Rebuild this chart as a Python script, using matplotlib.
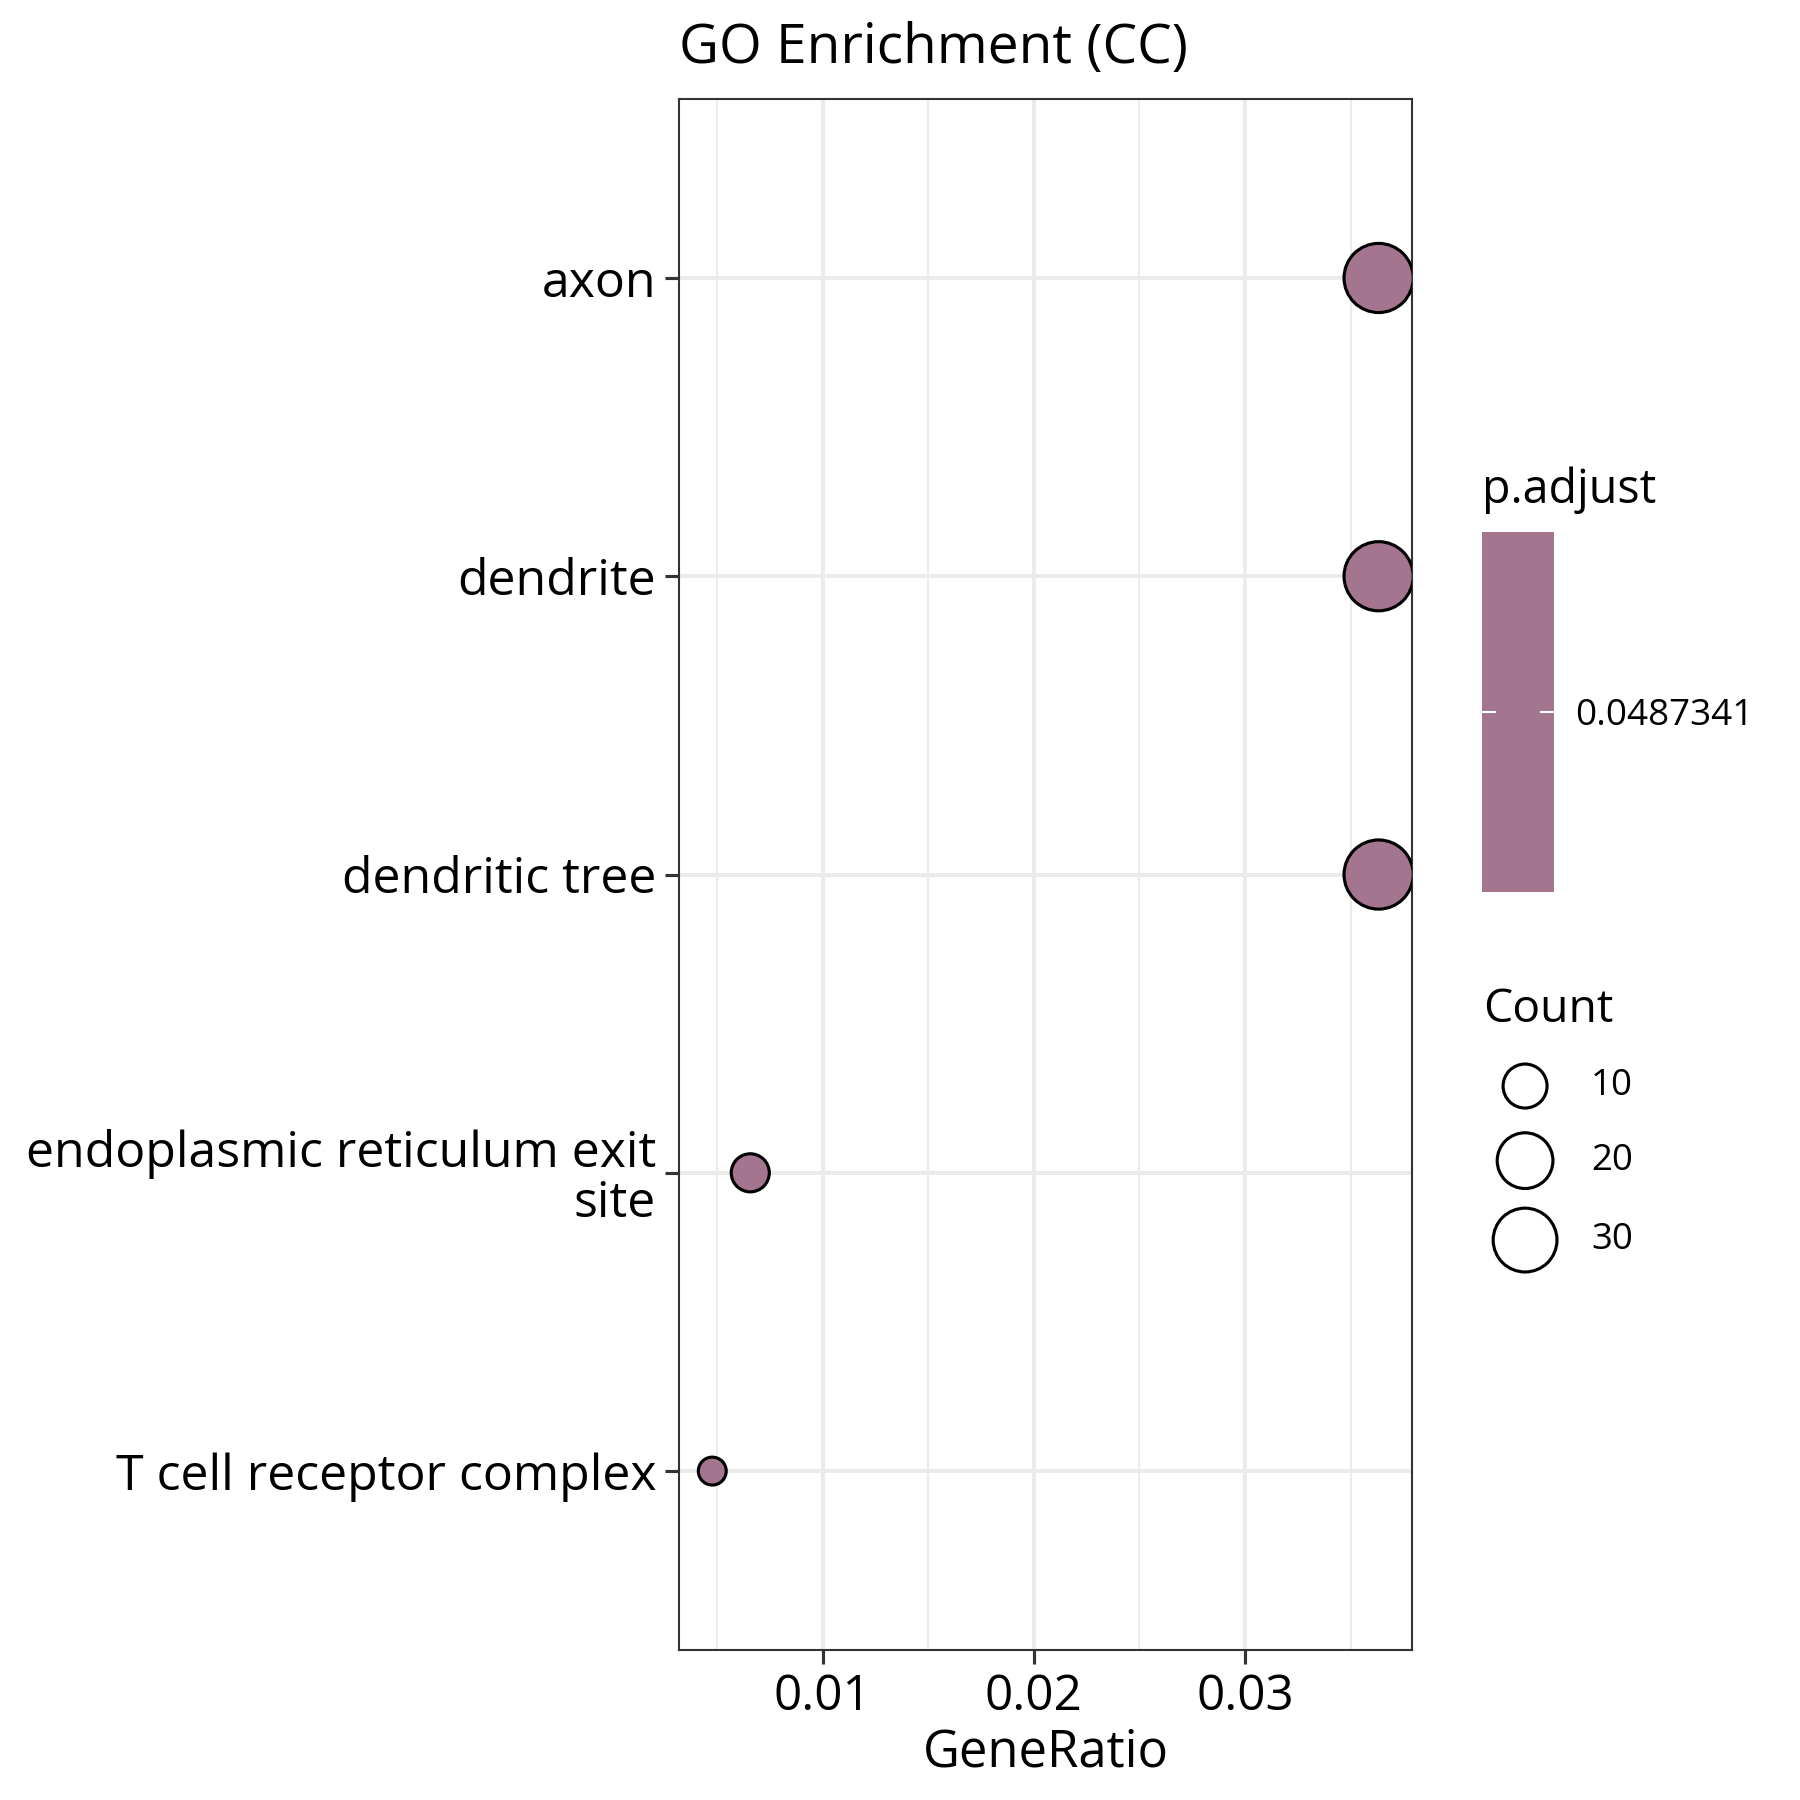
import numpy as np
import matplotlib
matplotlib.use("Agg")
import matplotlib.pyplot as plt
from matplotlib.ticker import MultipleLocator, FormatStrFormatter

plt.rcParams['font.family'] = ['Open Sans', 'DejaVu Sans']

# Dados
termos = ['axon', 'dendrite', 'dendritic tree',
          'endoplasmic reticulum exit\nsite', 'T cell receptor complex']
gene_ratio = [0.03633, 0.03633, 0.03633, 0.00657, 0.00477]
contagem = [38, 38, 38, 7, 5]
p_adjust = [0.0487341, 0.0487341, 0.0487341, 0.0487341, 0.0487341]
quebras_count = [10, 20, 30]

COR_PONTO = '#A3758F'
COR_GRADE = '#EBEBEB'
COR_EIXO = '#333333'
LW_BORDA = 0.75


def diametro(c, cmin, cmax, dmin=6.7, dmax=16.6):
    """Escala de tamanho tipo ggplot (área proporcional)."""
    f = (np.asarray(c, float) - cmin) / (cmax - cmin)
    f = np.clip(f, 0, 1)
    return dmin + (dmax - dmin) * np.sqrt(f)


cmin, cmax = min(contagem), max(contagem)

fig = plt.figure(figsize=(6, 6), dpi=300)
ax = fig.add_axes([0.3772, 0.0833, 0.4072, 0.8617])

n = len(termos)
y = np.arange(n)[::-1]

ax.set_axisbelow(True)
ax.grid(True, which='major', color=COR_GRADE, linewidth=0.95)
ax.grid(True, which='minor', axis='x', color=COR_GRADE, linewidth=0.5)

d = diametro(contagem, cmin, cmax)
ax.scatter(gene_ratio, y, s=d ** 2, c=COR_PONTO, edgecolors='black',
           linewidths=LW_BORDA, zorder=3, clip_on=True)

xmin, xmax = min(gene_ratio), max(gene_ratio)
pad = (xmax - xmin) * 0.05
ax.set_xlim(xmin - pad, xmax + pad)
ax.set_ylim(-0.6, n - 1 + 0.6)

ax.xaxis.set_major_locator(MultipleLocator(0.01))
ax.xaxis.set_minor_locator(MultipleLocator(0.005))
ax.xaxis.set_major_formatter(FormatStrFormatter('%.2f'))
ax.set_yticks(y)
ax.set_yticklabels(termos, fontsize=12.0, linespacing=1.0)

ax.tick_params(which='major', length=3.3, width=0.75, color=COR_EIXO,
               pad=2.2, labelcolor='black')
ax.tick_params(axis='x', labelsize=11.9, pad=2.0)
ax.tick_params(which='minor', length=0)
for s in ax.spines.values():
    s.set_color(COR_EIXO)
    s.set_linewidth(0.5)

ax.set_xlabel('GeneRatio', fontsize=12.2, labelpad=1.5)
fig.text(0.3772, 0.965, 'GO Enrichment (CC)', fontsize=13.2,
         ha='left', va='baseline')

# Barra de cor (p.adjust)
cax = fig.add_axes([0.8234, 0.5044, 0.04, 0.2003])
cax.set_facecolor(COR_PONTO)
pmin, pmax = min(p_adjust), max(p_adjust)
cax.set_xlim(0, 1)
cax.set_ylim(pmin - 1, pmax + 1)
cax.set_xticks([])
cax.set_yticks([pmin])
cax.set_yticklabels([f'{pmin:g}'])
cax.tick_params(axis='y', left=True, right=True, labelleft=False,
                labelright=True, direction='in', length=3.4, width=0.5,
                color='white', labelsize=8.85, pad=5)
for s in cax.spines.values():
    s.set_visible(False)
fig.text(0.8234, 0.7206, 'p.adjust', fontsize=11.2, ha='left', va='baseline')

# Legenda de tamanho (Count)
fig.text(0.8239, 0.432, 'Count', fontsize=11.1, ha='left', va='baseline')
lax = fig.add_axes([0.8167, 0.2833, 0.1167, 0.1389])
lax.set_xlim(0, 210)
lax.set_ylim(250, 0)
lax.axis('off')
dl = diametro(quebras_count, cmin, cmax)
linhas = 46 + np.array([0, 74.6, 154])
lax.scatter([55] * len(quebras_count), linhas, s=dl ** 2, facecolors='white',
            edgecolors='black', linewidths=LW_BORDA, clip_on=False)
for yy, q in zip(linhas, quebras_count):
    lax.text(121, yy, str(q), fontsize=8.8, ha='left', va='center')

fig.savefig('out.png', dpi=300)
